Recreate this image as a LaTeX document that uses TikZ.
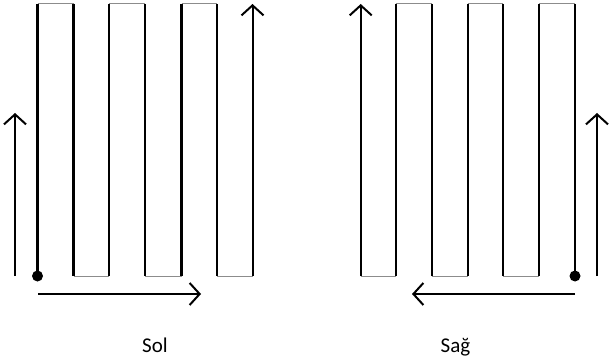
\documentclass[tikz,border=0pt]{standalone}
\usepackage{fontspec}
\setmainfont{Carlito}
\usetikzlibrary{arrows.meta}
\tikzset{
  vline/.style={line width=2.2pt, black},
  hline/.style={line width=1pt, black!45},
  arr/.style={line width=2pt, -{Straight Barb[length=10pt,width=22pt,line width=2pt]}},
  startdot/.style={circle, fill=black, inner sep=0pt, minimum size=11pt},
  lbl/.style={font=\fontsize{21}{24}\selectfont, inner sep=0pt, anchor=base}
}
\begin{document}
\begin{tikzpicture}[x=1pt,y=-1pt]
\useasboundingbox (0,0) rectangle (611,361);
% ---- left serpentine
\foreach \i/\x in {0/37.5,1/73.5,2/109,3/145,4/181.5,5/217,6/252.5}{
  \coordinate (L\i t) at (\x,4);
  \coordinate (L\i b) at (\x,276);
}
\draw[hline] (L0t) -- (L1t) (L2t) -- (L3t) (L4t) -- (L5t);
\draw[hline] (L1b) -- (L2b) (L3b) -- (L4b) (L5b) -- (L6b);
\foreach \i in {0,...,5}{ \draw[vline] (L\i t) -- (L\i b); }
\draw[vline, arr] (L6b) -- (L6t);
\node[startdot] (Ldot) at (L0b) {};
\coordinate (La1) at (15,276);
\coordinate (La2) at (15,113);
\draw[arr] (La1) -- (La2);
\coordinate (Lb1) at (38,294);
\coordinate (Lb2) at (201,294);
\draw[arr] (Lb1) -- (Lb2);
\node[lbl] (sol) at (155,352) {Sol};
% ---- right serpentine
\foreach \i/\x in {0/360.7,1/395.7,2/431.7,3/467.7,4/503.3,5/539.3,6/575}{
  \coordinate (R\i t) at (\x,4);
  \coordinate (R\i b) at (\x,276);
}
\draw[hline] (R1t) -- (R2t) (R3t) -- (R4t) (R5t) -- (R6t);
\draw[hline] (R0b) -- (R1b) (R2b) -- (R3b) (R4b) -- (R5b);
\foreach \i in {1,...,6}{ \draw[vline] (R\i t) -- (R\i b); }
\draw[vline, arr] (R0b) -- (R0t);
\node[startdot] (Rdot) at (R6b) {};
\coordinate (Ra1) at (597,276);
\coordinate (Ra2) at (597,113);
\draw[arr] (Ra1) -- (Ra2);
\coordinate (Rb1) at (575,294);
\coordinate (Rb2) at (412,294);
\draw[arr] (Rb1) -- (Rb2);
\node[lbl] (sag) at (455.5,352) {Sağ};
\end{tikzpicture}
\end{document}
